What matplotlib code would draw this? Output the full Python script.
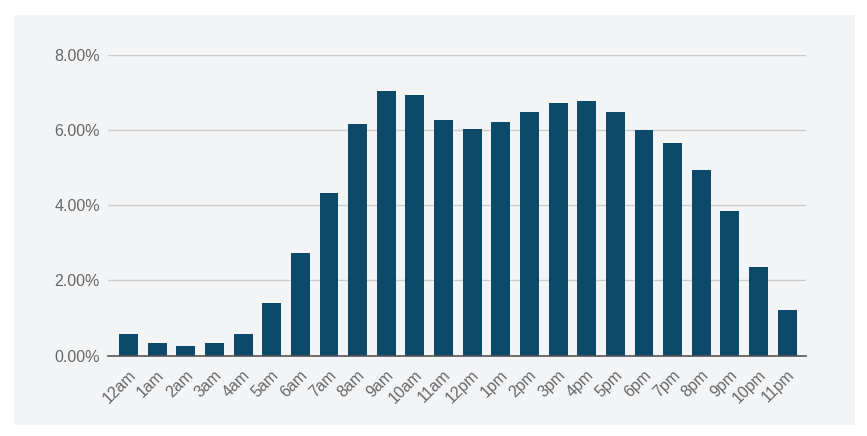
import matplotlib
matplotlib.use("Agg")
import matplotlib.pyplot as plt
from matplotlib.patches import Rectangle
import matplotlib.transforms as mtransforms
from matplotlib.ticker import FuncFormatter

hours = ["12am", "1am", "2am", "3am", "4am", "5am", "6am", "7am", "8am", "9am", "10am", "11am",
         "12pm", "1pm", "2pm", "3pm", "4pm", "5pm", "6pm", "7pm", "8pm", "9pm", "10pm", "11pm"]
share = [0.57, 0.33, 0.26, 0.33, 0.57, 1.40, 2.73, 4.33, 6.17, 7.05, 6.95, 6.27,
         6.03, 6.21, 6.49, 6.72, 6.79, 6.49, 6.02, 5.66, 4.95, 3.84, 2.37, 1.20]
yticks = [0, 2, 4, 6, 8]

plt.rcParams['font.family'] = ['Liberation Sans', 'DejaVu Sans']

W, H = 867, 436
fig = plt.figure(figsize=(W / 100, H / 100), dpi=100)
fig.patch.set_facecolor("white")
fig.patches.append(Rectangle((14 / W, 1 - 425 / H), 841 / W, 410 / H,
                             transform=fig.transFigure, facecolor="#f3f4f6",
                             edgecolor="none", zorder=-10))

ax = fig.add_axes([108 / W, 1 - 355.5 / H, (806 - 108) / W, (355.5 - 55.3) / H])
ax.set_facecolor("none")

x = list(range(len(hours)))
ax.bar(x, share, width=0.66, color="#0d4a6a", zorder=3)

ax.set_xlim(-0.72, 23.66)
ax.set_ylim(0, 8)
ax.set_yticks(yticks)
ax.yaxis.set_major_formatter(FuncFormatter(lambda v, p: f"{v:.2f}%"))
ax.grid(axis="y", color="#cccccc", linewidth=1, zorder=0)
ax.set_axisbelow(True)

for s in ["top", "right", "left"]:
    ax.spines[s].set_visible(False)
ax.spines["bottom"].set_color("#555555")
ax.spines["bottom"].set_linewidth(1.2)
ax.spines["bottom"].set_zorder(4)

ax.tick_params(axis="y", length=0, pad=5.8, labelsize=11.5, labelcolor="#666666")
ax.tick_params(axis="x", length=0, pad=8.5, labelsize=11.5, labelcolor="#666666")
ax.set_xticks(x)
ax.set_xticklabels(hours, rotation=45, ha="right", va="top")
offset = mtransforms.ScaledTranslation(10 / 100, 0, fig.dpi_scale_trans)
for lbl in ax.get_xticklabels():
    lbl.set_transform(lbl.get_transform() + offset)

fig.savefig("out.png", dpi=100)
